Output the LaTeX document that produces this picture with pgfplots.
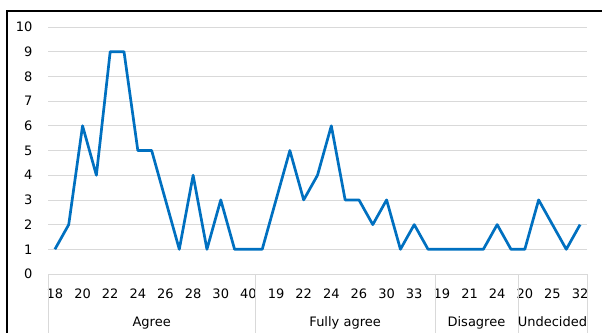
\documentclass[border=0pt]{standalone}
\usepackage{pgfplots}
\usepackage{pgfplotstable}
\pgfplotsset{compat=1.18}
\usepackage{fontspec}
\setmainfont{DejaVu Sans}

\definecolor{lineblue}{HTML}{0070C0}
\definecolor{gridgray}{HTML}{D9D9D9}
\newcommand{\chartfont}{\fontsize{13}{15}\selectfont}

% Counts per age, grouped by answer (Agree 0-14, Fully agree 15-27,
% Disagree 28-33, Undecided 34-38)
\pgfplotstableread{
idx val
0 1
1 2
2 6
3 4
4 9
5 9
6 5
7 5
8 3
9 1
10 4
11 1
12 3
13 1
14 1
15 1
16 3
17 5
18 3
19 4
20 6
21 3
22 3
23 2
24 3
25 1
26 2
27 1
28 1
29 1
30 1
31 1
32 2
33 1
34 1
35 3
36 2
37 1
38 2
}\responses

\begin{document}
\begin{tikzpicture}
\useasboundingbox (0pt,0pt) rectangle (602pt,332pt);
\draw[line width=2pt] (7pt,-5pt) -- (7pt,321pt) -- (612pt,321pt);
\begin{axis}[
  at={(48pt,58pt)}, anchor=south west,
  scale only axis, width=539pt, height=247pt,
  xmin=-0.5, xmax=38.5, ymin=0, ymax=10,
  ytick={0,...,10},
  xtick={0,2,...,38},
  xticklabels={18,20,22,24,26,28,30,40,19,22,24,26,30,33,19,21,24,20,25,32},
  axis x line*=bottom, axis y line*=left,
  x axis line style={gridgray, line width=0.8pt},
  y axis line style={draw=none},
  ymajorgrids, grid style={gridgray, line width=0.8pt},
  major tick length=0pt, tick style={draw=none},
  xticklabel style={font=\chartfont, anchor=base, yshift=-24pt},
  yticklabel style={font=\chartfont, anchor=base east, xshift=-12pt, yshift=-4.75pt},
  /pgf/number format/assume math mode=true,
  clip=false,
]
\addplot[lineblue, line width=2.7pt, line join=round, mark=none] table[x=idx, y=val] {\responses};

% group separators below the axis
\pgfplotsinvokeforeach{-0.5,14.5,27.5,33.5,38.5}{
  \draw[gridgray, line width=0.8pt] (axis cs:#1,0) -- ++(0pt,-62pt);
}
\node[font=\chartfont, anchor=base, yshift=-52.75pt] at (axis cs:7,0) {Agree};
\node[font=\chartfont, anchor=base, yshift=-52.75pt] at (axis cs:21,0) {Fully agree};
\node[font=\chartfont, anchor=base, yshift=-52.75pt] at (axis cs:30.5,0) {Disagree};
\node[font=\chartfont, anchor=base, yshift=-52.75pt] at (axis cs:36,0) {Undecided};
\end{axis}
\end{tikzpicture}
\end{document}
